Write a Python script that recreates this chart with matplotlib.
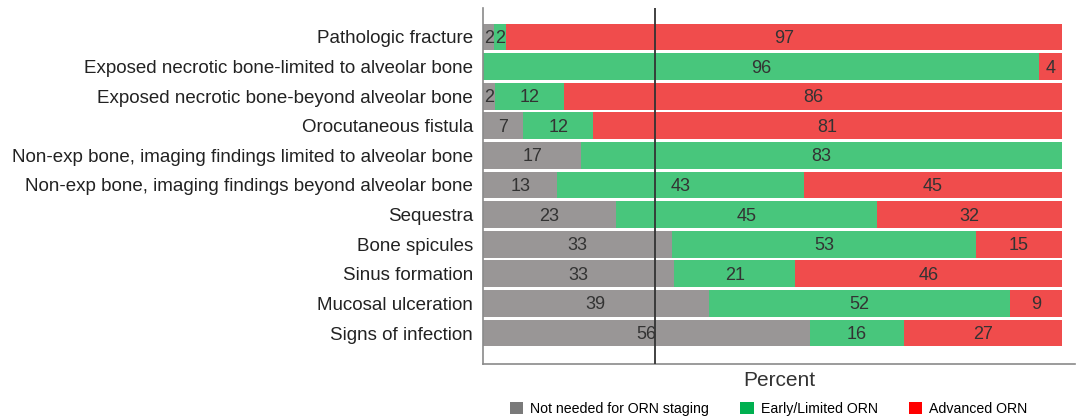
import numpy as np
import matplotlib
matplotlib.use("Agg")
import matplotlib.pyplot as plt
from matplotlib.patches import Patch

plt.rcParams['font.family'] = ['Liberation Sans', 'DejaVu Sans']

# Categorias (de cima para baixo) e percentuais por grupo
categorias = [
    "Pathologic fracture",
    "Exposed necrotic bone-limited to alveolar bone",
    "Exposed necrotic bone-beyond alveolar bone",
    "Orocutaneous fistula",
    "Non-exp bone, imaging findings limited to alveolar bone",
    "Non-exp bone, imaging findings beyond alveolar bone",
    "Sequestra",
    "Bone spicules",
    "Sinus formation",
    "Mucosal ulceration",
    "Signs of infection",
]
nao_necessario = [2, 0, 2, 7, 17, 13, 23, 33, 33, 39, 56]
inicial_limitado = [2, 96, 12, 12, 83, 43, 45, 53, 21, 52, 16]
avancado = [97, 4, 86, 81, 0, 45, 32, 15, 46, 9, 27]

series = ["Not needed for ORN staging", "Early/Limited ORN", "Advanced ORN"]
cores_barra = ["#999696", "#48c67c", "#f04c4c"]
cores_legenda = ["#7a7a7a", "#00b050", "#ff0000"]
LINHA_REF = 29.7

valores = np.array([nao_necessario, inicial_limitado, avancado], dtype=float)
# cada linha normalizada para somar 100%
larguras = valores / valores.sum(axis=0) * 100

fig = plt.figure(figsize=(10.78, 4.19), dpi=100)
ax = fig.add_axes([0.448, 0.131, 0.549, 0.850])

y = np.arange(len(categorias))
esquerda = np.zeros(len(categorias))
for i in range(3):
    ax.barh(y, larguras[i], left=esquerda, height=0.9, color=cores_barra[i],
            edgecolor="none", zorder=2)
    for j in range(len(categorias)):
        if valores[i, j] > 0:
            ax.text(esquerda[j] + larguras[i, j] / 2, y[j] + 0.05, f"{int(valores[i, j])}",
                    ha="center", va="center", fontsize=13, color="#333333", zorder=4)
    esquerda += larguras[i]

ax.axvline(LINHA_REF, color="#333333", lw=1.3, zorder=3)

ax.set_xlim(0, 102.25)
ax.set_ylim(11.05, -0.98)
ax.set_yticks(y)
ax.set_yticklabels(categorias, fontsize=13.5, color="#222222")
ax.tick_params(axis="y", length=0, pad=7)
ax.set_xticks([])
ax.set_xlabel("Percent", fontsize=15, color="#333333", labelpad=5)

for lado in ["top", "right"]:
    ax.spines[lado].set_visible(False)
for lado in ["left", "bottom"]:
    ax.spines[lado].set_color("#8a8a8a")
    ax.spines[lado].set_linewidth(1.2)

handles = [Patch(facecolor=c, edgecolor="none") for c in cores_legenda]
fig.legend(handles, series, loc="center", bbox_to_anchor=(0.713, 0.024), ncol=3,
           frameon=False, fontsize=10.2, handlelength=0.95, handleheight=0.95,
           columnspacing=2.2, handletextpad=0.5)

fig.savefig("out.png", dpi=100)
